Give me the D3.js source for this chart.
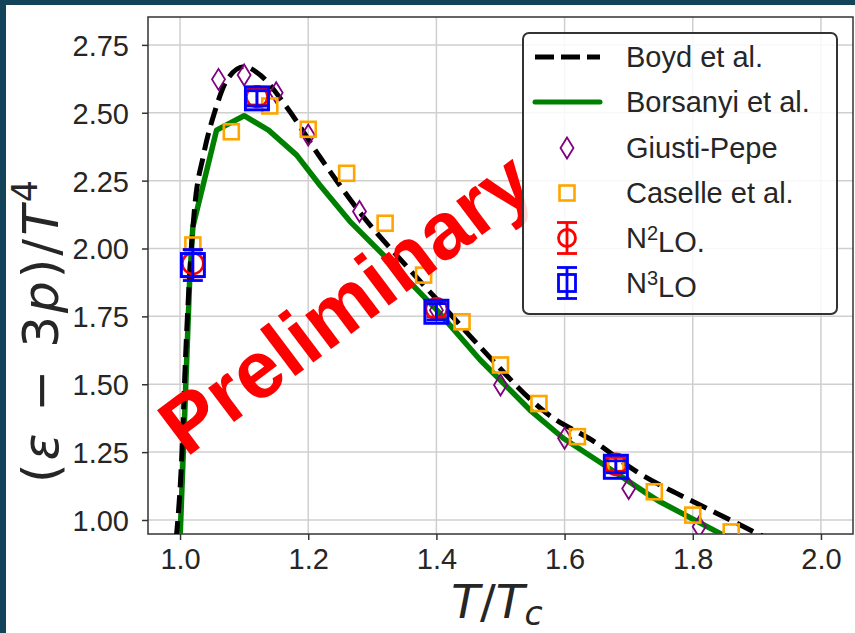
<!DOCTYPE html>
<html><head><meta charset="utf-8">
<script src="https://cdn.jsdelivr.net/npm/d3@7"></script>
<style>html,body{margin:0;padding:0;background:#13445a;overflow:hidden}svg{display:block}</style>
</head><body><svg id="c" width="855" height="633"></svg>
<script>
// ---------- data ----------
const xTicks = [1.0, 1.2, 1.4, 1.6, 1.8, 2.0];
const yTicks = [1.00, 1.25, 1.50, 1.75, 2.00, 2.25, 2.50, 2.75];

const boydT = [0.994, 1.003, 1.008, 1.0145, 1.0234, 1.036, 1.055, 1.073, 1.100, 1.125, 1.166, 1.218, 1.286, 1.354, 1.416, 1.468, 1.572, 1.650, 1.7125, 1.749, 1.775, 1.905, 1.93];
const boydV = [0.93, 1.25, 1.565, 1.884, 2.166, 2.338, 2.510, 2.620, 2.670, 2.639, 2.522, 2.338, 2.117, 1.933, 1.773, 1.638, 1.393, 1.283, 1.178, 1.129, 1.098, 0.945, 0.915];

const borsT = [1.000, 1.005, 1.010, 1.015, 1.020, 1.057, 1.100, 1.138, 1.182, 1.218, 1.265, 1.322, 1.400, 1.468, 1.546, 1.598, 1.666, 1.728, 1.749, 1.855, 1.87];
const borsV = [0.93, 1.245, 1.565, 1.884, 2.080, 2.436, 2.489, 2.436, 2.344, 2.234, 2.100, 1.965, 1.775, 1.590, 1.405, 1.301, 1.196, 1.098, 1.067, 0.935, 0.915];

const giustiT = [1.06, 1.10, 1.15, 1.20, 1.28, 1.40, 1.50, 1.60, 1.70, 1.81];
const giustiV = [2.623, 2.639, 2.574, 2.418, 2.136, 1.773, 1.497, 1.301, 1.116, 0.975];

const caselleT = [1.02, 1.08, 1.14, 1.20, 1.26, 1.32, 1.38, 1.44, 1.50, 1.56, 1.62, 1.68, 1.74, 1.80, 1.86];
const caselleV = [2.013, 2.430, 2.525, 2.439, 2.277, 2.093, 1.902, 1.730, 1.571, 1.429, 1.307, 1.205, 1.104, 1.018, 0.956];

const n2loT = [1.02, 1.12, 1.40, 1.68];
const n2loV = [1.945, 2.559, 1.778, 1.205];
const n2loE = [0.05, 0.03, 0.03, 0.025];

const n3loT = [1.02, 1.12, 1.40, 1.68];
const n3loV = [1.939, 2.553, 1.767, 1.196];
const n3loE = [0.057, 0.028, 0.03, 0.022];

const legendLabels = ["Boyd et al.", "Borsanyi et al.", "Giusti-Pepe", "Caselle et al.", "N2LO.", "N3LO"];

// ---------- layout ----------
const svg = d3.select("#c");
const L = 148, R = 853, T = 17, B = 534;
const x = d3.scaleLinear().domain([0.95, 2.05]).range([L, R]);
const y = d3.scaleLinear().domain([0.9484, 2.8527]).range([B, T]);
const txt = "#262626";
const tickFont = "'Liberation Sans', Arial, sans-serif";

svg.append("rect").attr("x", 6).attr("y", 5).attr("width", 849).attr("height", 628).attr("fill", "#fff");

svg.append("defs").append("clipPath").attr("id", "pc")
  .append("rect").attr("x", L).attr("y", T).attr("width", R - L).attr("height", B - T);

// grid
const grid = svg.append("g").attr("stroke", "#cfcfcf").attr("stroke-width", 1.5);
xTicks.forEach(v => grid.append("line").attr("x1", x(v)).attr("x2", x(v)).attr("y1", T).attr("y2", B));
yTicks.forEach(v => grid.append("line").attr("x1", L).attr("x2", R).attr("y1", y(v)).attr("y2", y(v)));

// axes
const xAxis = d3.axisBottom(x).tickValues(xTicks).tickFormat(d3.format(".1f")).tickSize(6).tickPadding(6);
const yAxis = d3.axisLeft(y).tickValues(yTicks).tickFormat(d3.format(".2f")).tickSize(6).tickPadding(13);
const gx = svg.append("g").attr("transform", `translate(0,${B})`).call(xAxis);
const gy = svg.append("g").attr("transform", `translate(${L},0)`).call(yAxis);
[gx, gy].forEach(g => {
  g.select(".domain").remove();
  g.selectAll(".tick line").attr("stroke", "#333").attr("stroke-width", 1.5);
  g.selectAll(".tick text").attr("fill", txt).style("font-family", tickFont).style("font-size", "29px");
});
gx.selectAll(".tick text").attr("dy", "0.78em");
gy.selectAll(".tick text").attr("dy", "0.36em");

// frame
svg.append("rect").attr("x", L).attr("y", T).attr("width", R - L).attr("height", B - T)
  .attr("fill", "none").attr("stroke", "#333").attr("stroke-width", 1.5);

const plot = svg.append("g").attr("clip-path", "url(#pc)");

// Borsanyi (green)
const lineLin = d3.line().x(d => x(d[0])).y(d => y(d[1]));
plot.append("path").datum(d3.zip(borsT, borsV)).attr("d", lineLin)
  .attr("fill", "none").attr("stroke", "#008000").attr("stroke-width", 5.5).attr("stroke-linejoin", "round");

// Preliminary watermark
svg.append("text").text("Preliminary")
  .attr("transform", "translate(345,302) rotate(-37)")
  .attr("text-anchor", "middle").attr("dy", "0.36em")
  .attr("fill", "#ff0000").style("font-family", "'Liberation Sans', Arial, sans-serif")
  .style("font-weight", "bold").style("font-size", "81px");

// Boyd (black dashed)
const lineSmooth = d3.line().x(d => x(d[0])).y(d => y(d[1])).curve(d3.curveMonotoneX);
plot.append("path").datum(d3.zip(boydT, boydV)).attr("d", lineSmooth)
  .attr("fill", "none").attr("stroke", "#000").attr("stroke-width", 5).attr("stroke-dasharray", "18,8");

// markers
const diamond = (w, h) => `M0,${-h}L${w},0L0,${h}L${-w},0Z`;
plot.selectAll(".gp").data(d3.zip(giustiT, giustiV)).join("path")
  .attr("d", diamond(6.5, 10.5)).attr("transform", d => `translate(${x(d[0])},${y(d[1])})`)
  .attr("fill", "none").attr("stroke", "#800080").attr("stroke-width", 1.8);

plot.selectAll(".cs").data(d3.zip(caselleT, caselleV)).join("rect")
  .attr("x", d => x(d[0]) - 7.5).attr("y", d => y(d[1]) - 7.5).attr("width", 15).attr("height", 15)
  .attr("fill", "none").attr("stroke", "#ffa500").attr("stroke-width", 2.6);

function errbars(Ts, Vs, Es, color, w) {
  const g = plot.append("g").attr("stroke", color).attr("stroke-width", w).attr("fill", "none");
  Ts.forEach((t, i) => {
    const cx = x(t), y1 = y(Vs[i] - Es[i]), y2 = y(Vs[i] + Es[i]);
    g.append("line").attr("x1", cx).attr("x2", cx).attr("y1", y1).attr("y2", y2);
    g.append("line").attr("x1", cx - 10).attr("x2", cx + 10).attr("y1", y1).attr("y2", y1);
    g.append("line").attr("x1", cx - 10).attr("x2", cx + 10).attr("y1", y2).attr("y2", y2);
  });
  return g;
}
errbars(n2loT, n2loV, n2loE, "#ff0000", 2.5);
plot.selectAll(".n2").data(d3.zip(n2loT, n2loV)).join("circle")
  .attr("cx", d => x(d[0])).attr("cy", d => y(d[1])).attr("r", 10.5)
  .attr("fill", "none").attr("stroke", "#ff0000").attr("stroke-width", 2.6);
errbars(n3loT, n3loV, n3loE, "#0000ff", 2.8);
plot.selectAll(".n3").data(d3.zip(n3loT, n3loV)).join("rect")
  .attr("x", d => x(d[0]) - 11.5).attr("y", d => y(d[1]) - 11.5).attr("width", 23).attr("height", 23)
  .attr("fill", "none").attr("stroke", "#0000ff").attr("stroke-width", 3);

// legend
const lg = svg.append("g");
lg.append("rect").attr("x", 523).attr("y", 33).attr("width", 314).attr("height", 281).attr("rx", 6)
  .attr("fill", "#fff").attr("fill-opacity", 0.85).attr("stroke", "#333").attr("stroke-width", 2);
const ly = [57, 102, 148, 193, 238, 283];
lg.append("line").attr("x1", 535).attr("x2", 600).attr("y1", ly[0]).attr("y2", ly[0])
  .attr("stroke", "#000").attr("stroke-width", 5).attr("stroke-dasharray", "19,7");
lg.append("line").attr("x1", 535).attr("x2", 600).attr("y1", ly[1]).attr("y2", ly[1])
  .attr("stroke", "#008000").attr("stroke-width", 5).attr("stroke-linecap", "round");
lg.append("path").attr("d", diamond(6.5, 10.5)).attr("transform", `translate(567,${ly[2]})`)
  .attr("fill", "none").attr("stroke", "#800080").attr("stroke-width", 1.8);
lg.append("rect").attr("x", 567 - 7.5).attr("y", ly[3] - 7.5).attr("width", 15).attr("height", 15)
  .attr("fill", "none").attr("stroke", "#ffa500").attr("stroke-width", 2.6);
[[ly[4], "#ff0000"], [ly[5], "#0000ff"]].forEach(([yy, c], k) => {
  const g = lg.append("g").attr("stroke", c).attr("stroke-width", 2.8).attr("fill", "none");
  g.append("line").attr("x1", 567).attr("x2", 567).attr("y1", yy - 15.5).attr("y2", yy + 15.5);
  g.append("line").attr("x1", 557).attr("x2", 577).attr("y1", yy - 15.5).attr("y2", yy - 15.5);
  g.append("line").attr("x1", 557).attr("x2", 577).attr("y1", yy + 15.5).attr("y2", yy + 15.5);
  if (k === 0) g.append("circle").attr("cx", 567).attr("cy", yy).attr("r", 8.5);
  else g.append("rect").attr("x", 567 - 8.5).attr("y", yy - 8.5).attr("width", 17).attr("height", 17);
});
legendLabels.forEach((s, i) => {
  const t = lg.append("text").attr("x", 626).attr("y", ly[i]).attr("dy", "0.36em")
    .attr("fill", txt).style("font-family", tickFont).style("font-size", "29px");
  const m = s.match(/^N(\d)(.*)$/);
  if (m) {
    t.append("tspan").text("N");
    t.append("tspan").text(m[1]).attr("dy", "-0.42em").style("font-size", "20px");
    t.append("tspan").text(m[2]).attr("dy", "0.42em");
  } else t.text(s);
});

// axis labels
const mathFont = "'DejaVu Sans', sans-serif";
const xl = svg.append("text").attr("x", 497).attr("y", 618).attr("text-anchor", "middle")
  .attr("fill", txt).style("font-family", mathFont).style("font-size", "47px");
xl.append("tspan").text("T").style("font-style", "italic");
xl.append("tspan").text("/");
xl.append("tspan").text("T").style("font-style", "italic");
xl.append("tspan").text("c").style("font-style", "italic").style("font-size", "33px").attr("dy", "0.2em");

const yl = svg.append("text").attr("transform", "translate(58,330) rotate(-90)").attr("text-anchor", "middle")
  .attr("fill", txt).style("font-family", mathFont).style("font-size", "50px").style("letter-spacing", "3px");
yl.append("tspan").text("(");
yl.append("tspan").text("ε").style("font-style", "italic");
yl.append("tspan").text(" − 3");
yl.append("tspan").text("p").style("font-style", "italic");
yl.append("tspan").text(")/");
yl.append("tspan").text("T").style("font-style", "italic");
yl.append("tspan").text("4").style("font-size", "35px").attr("dy", "-0.6em");
</script></body></html>
